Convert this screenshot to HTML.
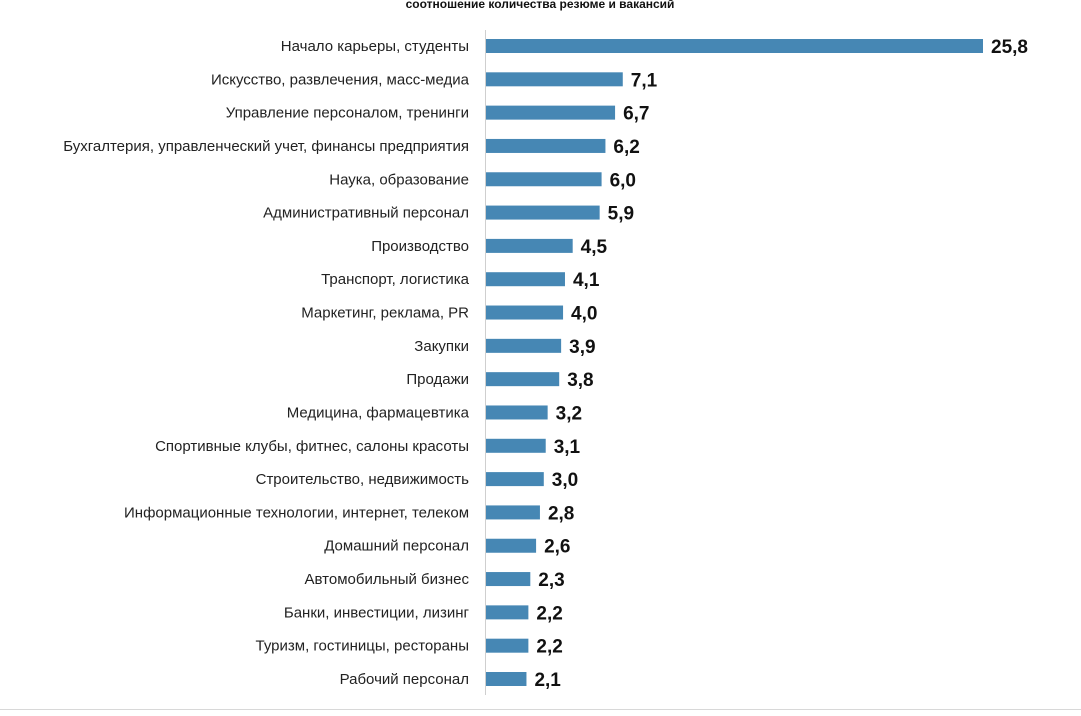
<!DOCTYPE html>
<html><head><meta charset="utf-8"><style>
body{margin:0;background:#fff;width:1081px;height:711px;overflow:hidden;font-family:"Liberation Sans",sans-serif}
</style></head><body>
<svg width="1081" height="711">
<text x="540" y="8" text-anchor="middle" font-size="12" font-weight="bold" fill="#111">соотношение количества резюме и вакансий</text>
<line x1="485.5" y1="30" x2="485.5" y2="695" stroke="#cfcfcf"/>
<line x1="0" y1="709.5" x2="1081" y2="709.5" stroke="#d8d8d8"/>
<g id="bars"></g>
</svg>
<script>
const categories=["Начало карьеры, студенты","Искусство, развлечения, масс-медиа","Управление персоналом, тренинги","Бухгалтерия, управленческий учет, финансы предприятия","Наука, образование","Административный персонал","Производство","Транспорт, логистика","Маркетинг, реклама, PR","Закупки","Продажи","Медицина, фармацевтика","Спортивные клубы, фитнес, салоны красоты","Строительство, недвижимость","Информационные технологии, интернет, телеком","Домашний персонал","Автомобильный бизнес","Банки, инвестиции, лизинг","Туризм, гостиницы, рестораны","Рабочий персонал"];
const values=[25.8,7.1,6.7,6.2,6.0,5.9,4.5,4.1,4.0,3.9,3.8,3.2,3.1,3.0,2.8,2.6,2.3,2.2,2.2,2.1];
const x0=486, scaleX=v=>x0+v*(497/25.8);
const yCenter=i=>46+i*(633/19);
const g=document.getElementById('bars');
const NS='http://www.w3.org/2000/svg';
categories.forEach((c,i)=>{
  const y=yCenter(i);
  const r=document.createElementNS(NS,'rect');
  r.setAttribute('x',x0);r.setAttribute('y',y-7);r.setAttribute('width',scaleX(values[i])-x0);r.setAttribute('height',14);r.setAttribute('fill','#4687b4');
  
  
  g.appendChild(r);
  const t=document.createElementNS(NS,'text');
  t.setAttribute('x',469);t.setAttribute('y',y+5);t.setAttribute('text-anchor','end');t.setAttribute('font-size','15');t.setAttribute('fill','#222');
  t.textContent=c;
  
  
  g.appendChild(t);
  const v=document.createElementNS(NS,'text');
  v.setAttribute('x',scaleX(values[i])+8);v.setAttribute('y',y+7);v.setAttribute('font-size','19');v.setAttribute('font-weight','bold');v.setAttribute('fill','#111');
  v.textContent=values[i].toFixed(1).replace('.',',');
  
  
  g.appendChild(v);
});
</script>
</body></html>
